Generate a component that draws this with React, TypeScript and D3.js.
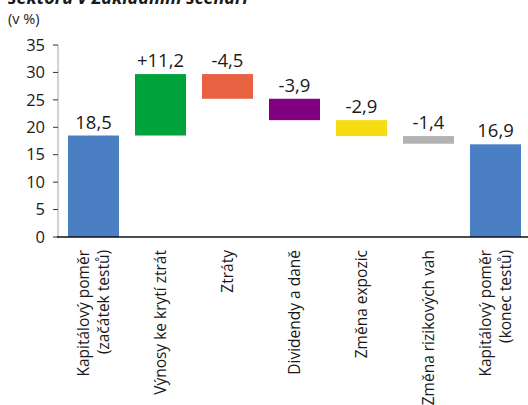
import React from "react";
import * as d3 from "d3";

const categories: string[][] = [
  ["Kapitálový poměr", "(začátek testů)"],
  ["Výnosy ke krytí ztrát"],
  ["Ztráty"],
  ["Dividendy a daně"],
  ["Změna expozic"],
  ["Změna rizikových vah"],
  ["Kapitálový poměr", "(konec testů)"],
];
const changes: number[] = [18.5, 11.2, -4.5, -3.9, -2.9, -1.4, 16.9];
const kinds: string[] = ["total", "delta", "delta", "delta", "delta", "delta", "total"];
const valueLabels: string[] = ["18,5", "+11,2", "-4,5", "-3,9", "-2,9", "-1,4", "16,9"];
const colors: string[] = ["#4a80c3", "#00a23c", "#e86141", "#800080", "#f7dc14", "#b3b3b3", "#4a80c3"];
const yTicks: number[] = [0, 5, 10, 15, 20, 25, 30, 35];

const W = 528;
const H = 405;
const FONT = "'Open Sans', 'Noto Sans', sans-serif";

export default function App() {
  const x = d3
    .scaleBand<number>()
    .domain(d3.range(categories.length))
    .range([60, 529])
    .paddingInner(16 / 67)
    .paddingOuter(8 / 67);
  const y = d3.scaleLinear().domain([0, 35]).range([237, 45]);

  let running = 0;
  const bars = changes.map((v, i) => {
    let lo: number, hi: number;
    if (kinds[i] === "total") {
      lo = 0;
      hi = v;
      running = v;
    } else {
      const next = running + v;
      lo = Math.min(running, next);
      hi = Math.max(running, next);
      running = next;
    }
    return { i, lo, hi };
  });

  return (
    <svg
      width={W}
      height={H}
      style={{ position: "absolute", left: 0, top: 0, background: "#fff" }}
      fontFamily={FONT}
    >
      <text x={8} y={4} fontSize={18} fontWeight="bold" fontStyle="italic" fill="#1a1a1a">
        sektoru v Základním scénáři
      </text>
      <text x={8} y={24} fontSize={14.5} fill="#1a1a1a">
        (v %)
      </text>

      {bars.map((b) => (
        <rect
          key={b.i}
          x={x(b.i)!}
          y={y(b.hi)}
          width={x.bandwidth()}
          height={y(b.lo) - y(b.hi)}
          fill={colors[b.i]}
        />
      ))}

      {bars.map((b) => (
        <text
          key={"v" + b.i}
          x={x(b.i)! + x.bandwidth() / 2}
          y={y(b.hi) - 7}
          textAnchor="middle"
          fontSize={18.5}
          fill="#1a1a1a"
        >
          {valueLabels[b.i]}
        </text>
      ))}

      {/* y axis */}
      <line x1={58} x2={58} y1={y(35)} y2={y(0)} stroke="#a6a6a6" strokeWidth={1} />
      {yTicks.map((t) => (
        <g key={t}>
          <line x1={53} x2={58} y1={y(t)} y2={y(t)} stroke="#333" strokeWidth={1} />
          <text x={45} y={y(t)} dy="0.35em" textAnchor="end" fontSize={16.5} fill="#1a1a1a">
            {t}
          </text>
        </g>
      ))}
      {/* x axis */}
      <line x1={57} x2={W} y1={y(0)} y2={y(0)} stroke="#111" strokeWidth={1.3} />

      {categories.map((lines, i) => {
        const cx = x(i)! + x.bandwidth() / 2;
        const n = lines.length;
        return (
          <text
            key={"c" + i}
            transform={`translate(${cx},${y(0) + 13}) rotate(-90)`}
            textAnchor="end"
            fontSize={15.5}
            fill="#1a1a1a"
          >
            {lines.map((l, k) => (
              <tspan key={k} x={0} dy={k === 0 ? `${(0.35 - (n - 1) * 0.62).toFixed(2)}em` : "1.25em"}>
                {l}
              </tspan>
            ))}
          </text>
        );
      })}
    </svg>
  );
}
